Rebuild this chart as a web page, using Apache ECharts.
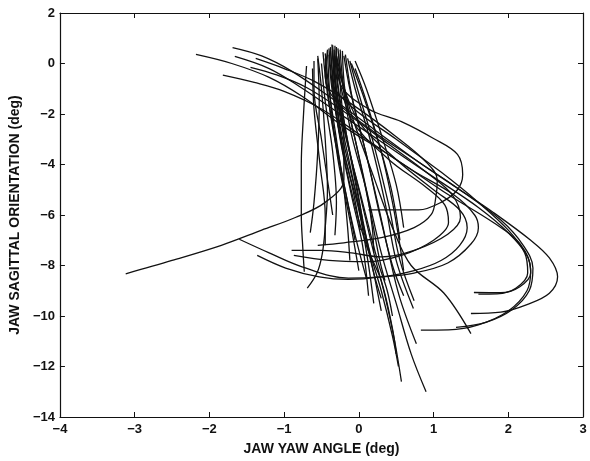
<!DOCTYPE html>
<html lang="en">
<head>
<meta charset="utf-8">
<title>Jaw yaw vs sagittal orientation</title>
<script src="https://cdn.jsdelivr.net/npm/echarts@6/dist/echarts.min.js"></script>
<style>
  html, body { margin: 0; padding: 0; background: #fff; }
  #main { width: 590px; height: 461px; }
</style>
</head>
<body>
<div id="main"></div>
<script>
// axis ranges / ticks
var xTicks = [-4, -3, -2, -1, 0, 1, 2, 3];
var yTicks = [-14, -12, -10, -8, -6, -4, -2, 0, 2];

// trajectories, [yaw, sagittal] in deg
// sweeping curves that come in from the upper left and loop on the right
var swoopA = [[-1.69,0.63],[-1.3,0.3],[-0.9,-0.3],[-0.4,-1.3],[0.2,-2.6],[0.8,-3.9],[1.3,-4.9],[1.8,-5.9],[2.3,-7.0],[2.55,-7.7],[2.66,-8.45],[2.55,-9.1],[2.25,-9.55],[1.9,-9.85],[1.5,-9.9]];
var swoopB = [[-2.18,0.36],[-1.7,0.0],[-1.2,-0.55],[-0.76,-1.3],[-0.2,-2.5],[0.5,-3.8],[1.2,-5.2],[1.8,-6.3],[2.16,-7.15],[2.3,-8.2],[2.25,-9.0],[2.0,-9.8],[1.6,-10.35],[1.2,-10.55],[0.83,-10.56]];
var swoopC = [[-1.66,0.28],[-1.2,-0.2],[-0.8,-0.9],[-0.3,-1.9],[0.4,-3.3],[1.0,-4.5],[1.6,-5.7],[2.0,-6.7],[2.25,-7.6],[2.3,-8.3],[2.15,-8.85],[1.9,-9.08],[1.54,-9.07]];
var swoopD = [[-1.82,-0.46],[-1.4,-0.75],[-1.0,-1.1],[-0.5,-1.8],[0.1,-3.0],[0.7,-4.2],[1.27,-5.2],[1.55,-6.0],[1.6,-6.5],[1.5,-7.15],[1.19,-7.9],[0.74,-8.3],[0.3,-8.45],[-0.14,-8.5],[-0.76,-8.05],[-1.2,-7.5],[-1.6,-6.96]];
var swoopE = [[-1.45,-0.15],[-1.1,-0.45],[-0.7,-0.95],[-0.2,-1.9],[0.4,-3.2],[0.9,-4.3],[1.25,-5.2],[1.36,-6.1],[1.19,-6.76],[0.74,-7.4],[0.3,-7.66],[-0.1,-7.5],[-0.5,-7.4],[-0.9,-7.4]];
var swoopF = [[-1.38,0.2],[-1.0,-0.2],[-0.6,-0.7],[-0.1,-1.6],[0.5,-2.9],[0.9,-3.9],[1.05,-4.6],[1.03,-5.3],[0.97,-5.98],[0.74,-6.5],[0.3,-6.9],[-0.2,-7.1],[-0.55,-7.2]];
var bandG = [[-0.42,0.5],[-0.45,-0.5],[-0.3,-1.5],[0.2,-2.7],[0.8,-3.9],[1.4,-5.1],[1.9,-6.2],[2.2,-7.2],[2.33,-8.1],[2.28,-9.0],[2.05,-9.75],[1.7,-10.25],[1.3,-10.45]];
var bandH = [[-0.3,0.3],[-0.35,-0.7],[-0.1,-1.7],[0.5,-3.0],[1.1,-4.3],[1.6,-5.5],[2.0,-6.6],[2.22,-7.5],[2.26,-8.3],[2.1,-8.9],[1.85,-9.12],[1.6,-9.13]];

// loops leaving the main bundle
var loopTop = [[-0.3,0.5],[-0.25,-0.8],[0.13,-1.8],[0.57,-2.3],[1.0,-2.97],[1.32,-3.6],[1.39,-4.4],[1.32,-5.0],[1.1,-5.5],[0.8,-5.8],[0.13,-5.8]];
var loopLow = [[-0.3,0.3],[-0.25,-0.5],[0.0,-2.3],[0.5,-3.8],[1.0,-5.0],[1.35,-5.8],[1.45,-6.5],[1.35,-7.2],[1.1,-7.8],[0.74,-8.2],[0.3,-8.45],[-0.14,-8.55],[-0.53,-8.45],[-0.98,-8.1],[-1.36,-7.6]];
var loopMid = [[-0.3,0.0],[-0.1,-2.2],[0.4,-3.8],[0.9,-4.9],[1.15,-5.6],[1.2,-6.3],[1.0,-7.0],[0.57,-7.6],[0.1,-7.85],[-0.4,-7.8],[-0.87,-7.6]];
var longLeft = [[-0.35,0.3],[-0.3,-1.0],[-0.2,-3.0],[-0.2,-4.6],[-0.45,-5.5],[-0.85,-6.1],[-1.3,-6.6],[-1.84,-7.2],[-2.5,-7.8],[-3.12,-8.33]];
var diagLong = [[-0.3,0.3],[-0.1,-2.0],[0.2,-4.5],[0.45,-6.5],[0.7,-8.0],[1.14,-9.1],[1.5,-10.7]];

// near-vertical strands of the main bundle
var st1 = [[-0.36,0.75],[-0.33,-0.5],[-0.25,-2.5],[-0.05,-5],[0.15,-7.5],[0.3,-9],[0.45,-10.8],[0.53,-12.0]];
var st2 = [[-0.32,0.7],[-0.3,-0.5],[-0.2,-2.5],[0.0,-5],[0.2,-7.5],[0.35,-9.2],[0.48,-11],[0.57,-12.6]];
var st3 = [[-0.28,0.6],[-0.22,-0.8],[-0.1,-2.8],[0.1,-5],[0.3,-7.5],[0.5,-9.5],[0.7,-11.5],[0.9,-13.0]];
var st4 = [[-0.2,0.3],[-0.12,-1],[0.05,-3],[0.25,-5.5],[0.4,-7.5],[0.55,-9.3],[0.77,-11.1]];
var st5 = [[-0.15,0.2],[-0.05,-1],[0.15,-3],[0.35,-5.5],[0.5,-7.8],[0.73,-9.7]];
var st6 = [[-0.12,0.1],[0.0,-1.2],[0.2,-3.2],[0.4,-5.6],[0.55,-7.8],[0.74,-9.4]];
var st7 = [[-0.4,0.6],[-0.35,-1],[-0.25,-3],[-0.1,-5.2],[0.05,-7.2],[0.13,-9.2]];
var st8 = [[-0.38,0.5],[-0.32,-1.2],[-0.2,-3.5],[0,-5.8],[0.12,-7.8],[0.2,-9.5]];
var st9 = [[-0.7,-0.1],[-0.74,-2],[-0.77,-4],[-0.77,-6],[-0.75,-7.3],[-0.73,-8.25]];
var st10 = [[-0.55,0.2],[-0.53,-1.5],[-0.55,-3.5],[-0.6,-5.5],[-0.65,-6.7]];
var st11 = [[-0.55,0.3],[-0.5,-1],[-0.45,-3],[-0.42,-5],[-0.45,-6.5],[-0.49,-7.55],[-0.56,-8.3],[-0.69,-8.9]];
var st12 = [[-0.45,0.4],[-0.4,-1],[-0.3,-3],[-0.2,-5],[-0.15,-6.5],[-0.12,-7.8]];
var st13 = [[-0.5,0.0],[-0.45,-1.5],[-0.35,-3.5],[-0.3,-5.5],[-0.32,-6.8]];
var st14 = [[-0.25,0.55],[-0.2,-1],[-0.05,-3],[0.1,-5],[0.18,-6.5],[0.2,-7.5]];
var st15 = [[-0.3,0.65],[-0.28,-0.8],[-0.18,-2.6],[-0.05,-4.5],[0.05,-6.2]];
var st16 = [[-0.1,0.0],[0.05,-1.2],[0.25,-3.0],[0.42,-4.8],[0.5,-6.0],[0.55,-7.0]];
var st17 = [[-0.6,0.1],[-0.6,-1.0],[-0.5,-3.0],[-0.4,-5.0],[-0.35,-6.0]];
var st18 = [[-0.42,0.55],[-0.38,-1.5],[-0.28,-3.8],[-0.12,-6.2],[0.0,-8.2]];
var st19 = [[-0.35,0.72],[-0.3,-1.2],[-0.15,-3.2],[0.05,-5.5],[0.25,-7.8],[0.38,-9.0],[0.45,-10]];
var st20 = [[-0.05,-0.2],[0.1,-1.5],[0.3,-3.5],[0.45,-5.5],[0.55,-7.2],[0.6,-8.2]];
var st21 = [[-0.48,0.45],[-0.42,-1.2],[-0.3,-3.2],[-0.15,-5.5],[-0.05,-7.0]];
var st22 = [[-0.22,0.5],[-0.18,-1.2],[-0.02,-3.4],[0.15,-5.8],[0.28,-7.8],[0.35,-8.6]];
var st23 = [[-0.33,0.55],[-0.28,-1.6],[-0.12,-4.0],[0.05,-6.4],[0.2,-8.3],[0.3,-9.3]];
var st24 = [[-0.45,0.2],[-0.38,-2],[-0.22,-4.5],[-0.05,-6.8],[0.1,-8.5]];
var st25 = [[-0.62,-0.2],[-0.6,-1.8],[-0.52,-4.0],[-0.45,-6.0],[-0.45,-7.2]];
var st26 = [[-0.18,0.35],[-0.08,-1.5],[0.1,-3.6],[0.28,-6],[0.45,-8],[0.6,-9.2]];
var st27 = [[-0.38,0.65],[-0.3,-2],[-0.12,-4.8],[0.1,-7.2],[0.3,-8.6],[0.45,-10.5],[0.5,-11.5]];
var st28 = [[-0.05,0.1],[0.1,-1.0],[0.3,-2.8],[0.5,-4.8],[0.6,-6.5]];
var st29 = [[-0.27,0.4],[-0.22,-1.8],[-0.08,-4.2],[0.08,-6.6],[0.22,-8.6],[0.3,-9.8]];
var st30 = [[-0.4,0.35],[-0.36,-1.0],[-0.24,-3.0],[-0.08,-5.0],[0.02,-6.6]];

var trajectories = [swoopA, swoopB, swoopC, swoopD, swoopE, swoopF, bandG, bandH,
    loopTop, loopLow, loopMid, longLeft, diagLong,
    st1, st2, st3, st4, st5, st6, st7, st8, st9, st10,
    st11, st12, st13, st14, st15, st16, st17, st18, st19, st20,
    st21, st22, st23, st24, st25, st26, st27, st28, st29, st30];

var myChart = echarts.init(document.getElementById("main"));

var font = "Liberation Sans, Arial, sans-serif";
function minus(v) { return String(v).replace("-", "\u2212"); }

var seriesList = [];
for (var i = 0; i < trajectories.length; i++) {
    seriesList.push({
        type: 'line',
        data: trajectories[i],
        smooth: 0.35,
        showSymbol: false,
        symbol: 'none',
        silent: true,
        lineStyle: { color: '#111', width: 1.3 }
    });
}

var option = {
    animation: false,
    backgroundColor: '#fff',
    grid: { left: 56, right: 7, top: 13, bottom: 39, containLabel: false },
    xAxis: [
        {
            type: 'value', min: -4, max: 3, interval: 1,
            name: 'JAW YAW ANGLE (deg)', nameLocation: 'middle', nameGap: 25,
            nameTextStyle: { color: '#111', fontFamily: font, fontSize: 14, fontWeight: 'bold' },
            axisLine: { show: true, onZero: false, lineStyle: { color: '#111', width: 1.2 } },
            axisTick: { show: true, inside: true, length: 5, lineStyle: { color: '#111' } },
            axisLabel: { color: '#111', fontFamily: font, fontSize: 13, fontWeight: 'bold', margin: 6, formatter: minus },
            splitLine: { show: false }
        },
        {
            type: 'value', min: -4, max: 3, interval: 1, position: 'top',
            axisLine: { show: true, onZero: false, lineStyle: { color: '#111', width: 1.2 } },
            axisTick: { show: true, inside: true, length: 5, lineStyle: { color: '#111' } },
            axisLabel: { show: false },
            splitLine: { show: false }
        }
    ],
    yAxis: [
        {
            type: 'value', min: -14, max: 2, interval: 2,
            name: 'JAW SAGITTAL ORIENTATION (deg)', nameLocation: 'middle', nameGap: 26,
            nameTextStyle: { color: '#111', fontFamily: font, fontSize: 14, fontWeight: 'bold' },
            axisLine: { show: true, onZero: false, lineStyle: { color: '#111', width: 1.2 } },
            axisTick: { show: true, inside: true, length: 5, lineStyle: { color: '#111' } },
            axisLabel: { color: '#111', fontFamily: font, fontSize: 13, fontWeight: 'bold', margin: 5, formatter: minus },
            splitLine: { show: false }
        },
        {
            type: 'value', min: -14, max: 2, interval: 2, position: 'right',
            axisLine: { show: true, onZero: false, lineStyle: { color: '#111', width: 1.2 } },
            axisTick: { show: true, inside: true, length: 5, lineStyle: { color: '#111' } },
            axisLabel: { show: false },
            splitLine: { show: false }
        }
    ],
    series: seriesList
};

myChart.setOption(option);
</script>
</body>
</html>
